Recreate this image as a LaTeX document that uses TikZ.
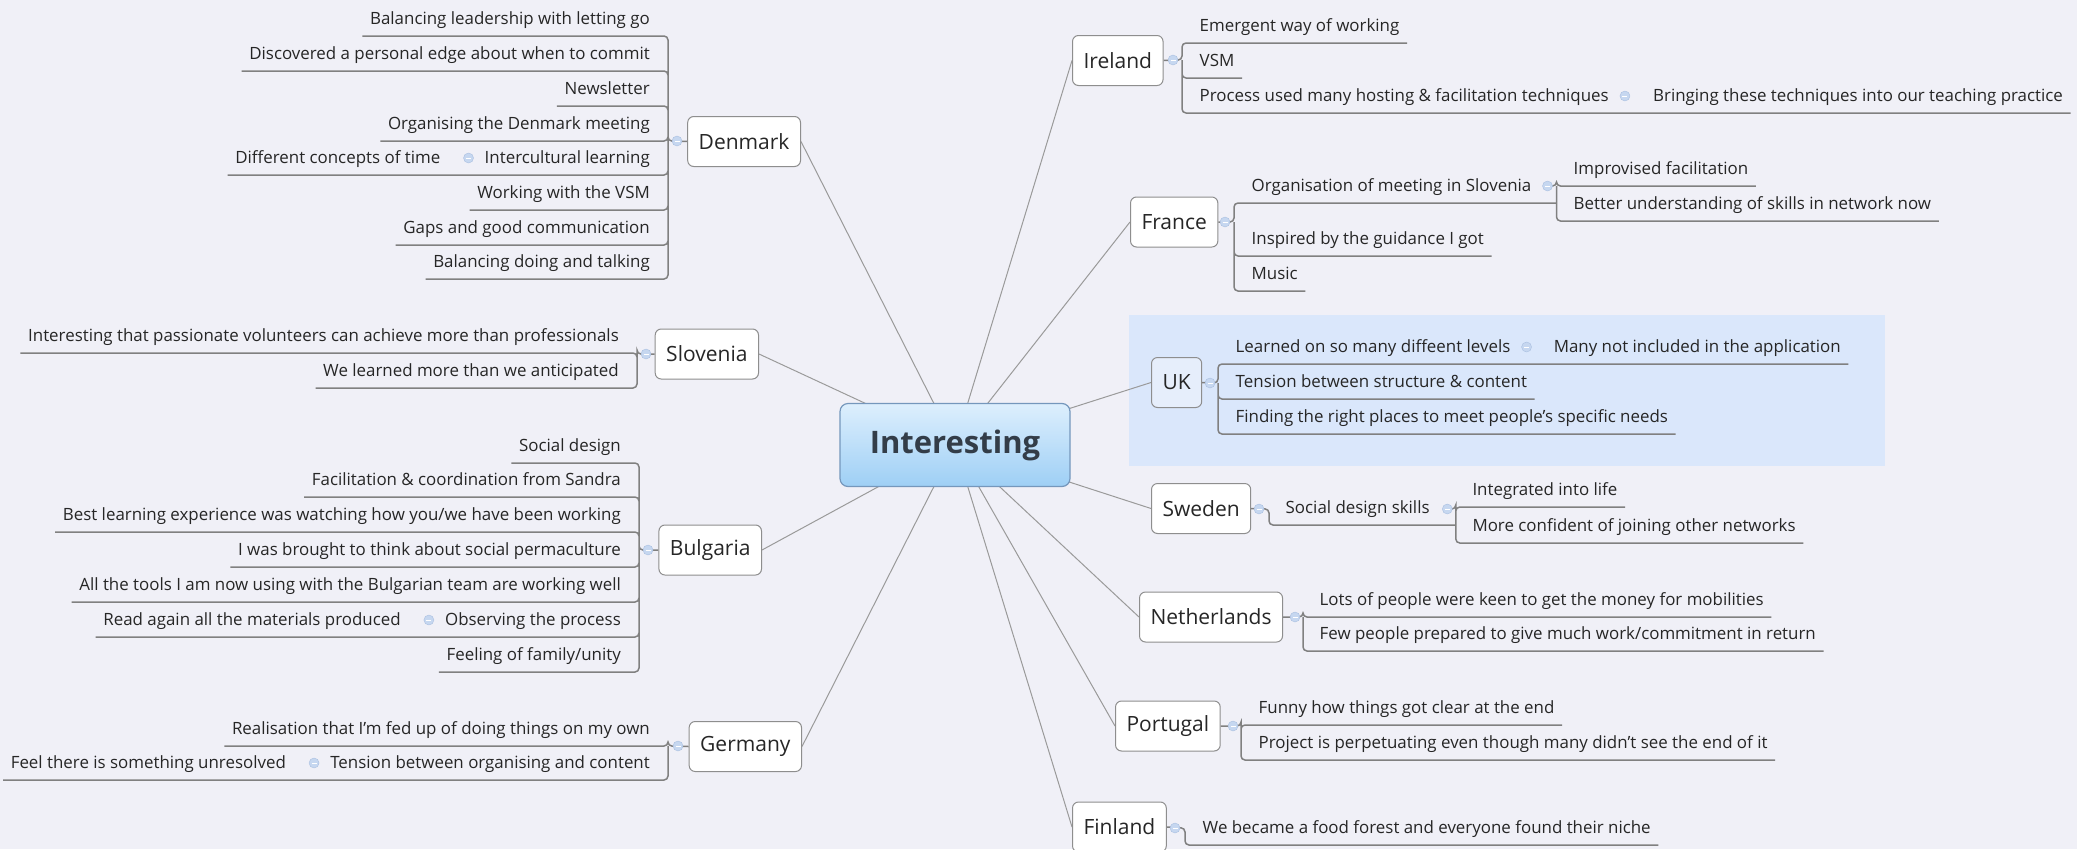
\documentclass[tikz,border=0pt]{standalone}
\usepackage{fontspec}
\setmainfont{Open Sans}
\usetikzlibrary{positioning,calc,backgrounds}

\definecolor{bgcol}{HTML}{F0F0F7}
\definecolor{hilite}{HTML}{DAE7FB}
\definecolor{ukfill}{HTML}{E6EEFB}
\definecolor{boxline}{HTML}{8E8E8E}
\definecolor{spokecol}{HTML}{9A9A9A}
\definecolor{linecol}{HTML}{808080}
\definecolor{hubtop}{HTML}{DDEFFD}
\definecolor{hubbot}{HTML}{9ECFF5}
\definecolor{hubline}{HTML}{7597BC}
\definecolor{hubtext}{HTML}{333D48}
\definecolor{textcol}{HTML}{262626}
\definecolor{mkfill}{HTML}{C6D7F0}
\definecolor{mkline}{HTML}{A9BFE0}

\begin{document}
\begin{tikzpicture}[x=1pt, y=-1pt,
    hub/.style={draw=hubline, line width=1.2pt, rounded corners=8pt,
      top color=hubtop, bottom color=hubbot, minimum width=230pt,
      minimum height=83pt, text=hubtext,
      font=\fontsize{31}{37}\selectfont\bfseries},
    country/.style={draw=boxline, line width=1pt, fill=white,
      rounded corners=6pt, minimum height=50pt, inner xsep=11pt,
      text=textcol, font=\fontsize{21}{25}\selectfont},
    leaf/.style={inner xsep=7.5pt, inner ysep=0pt, text height=12pt,
      text depth=11pt, text=textcol, font=\fontsize{16.9}{20}\selectfont},
    leafL/.style={leaf, anchor=south east},
    leafR/.style={leaf, anchor=south west},
    mk/.style={circle, draw=mkline, fill=mkfill, minimum size=10pt,
      inner sep=0pt, path picture={\draw[white, line width=1pt]
        ([xshift=-2.5pt]path picture bounding box.center) --
        ([xshift=2.5pt]path picture bounding box.center);}},
    spoke/.style={draw=spokecol, line width=1pt},
    branch/.style={draw=linecol, line width=1.5pt, rounded corners=4pt}]

    \useasboundingbox (0,0) rectangle (2077,849);

    \node[hub] (hub) at (955,445) {Interesting};

    % countries
    \node[country, anchor=east] (den) at (801,141.5) {Denmark};
    \node[country, anchor=east] (slo) at (759,354) {Slovenia};
    \node[country, anchor=east] (bul) at (762,550) {Bulgaria};
    \node[country, anchor=east] (ger) at (802,746.5) {Germany};
    \node[country, anchor=west] (ire) at (1072,60.5) {Ireland};
    \node[country, anchor=west] (fra) at (1130,222) {France};
    \node[country, anchor=west, fill=ukfill] (uk) at (1151,382.5) {UK};
    \node[country, anchor=west] (swe) at (1151,508.5) {Sweden};
    \node[country, anchor=west] (net) at (1139,617) {Netherlands};
    \node[country, anchor=west] (por) at (1115,726) {Portugal};
    \node[country, anchor=west] (fin) at (1072,827) {Finland};

    % Denmark
    \coordinate (denj) at (668,141);
    \node[mk] (denmk) at (677,141) {};
    \node[leafL] (den1) at (657.5,36) {Balancing leadership with letting go};
    \node[leafL] (den2) at (657.5,71) {Discovered a personal edge about when to commit};
    \node[leafL] (den3) at (657.5,106) {Newsletter};
    \node[leafL] (den4) at (657.5,141) {Organising the Denmark meeting};
    \node[leafL] (den5) at (657.5,175) {Intercultural learning};
    \node[leaf, left=29pt of den5.south west, anchor=south east] (den5a) {Different concepts of time};
    \node[mk] (den5mk) at ([shift={(-8.5,-17)}]den5.south west) {};
    \node[leafL] (den6) at (657.5,210) {Working with the VSM};
    \node[leafL] (den7) at (657.5,245) {Gaps and good communication};
    \node[leafL] (den8) at (657.5,279) {Balancing doing and talking};

    % Slovenia
    \coordinate (sloj) at (637,354);
    \node[mk] (slomk) at (646,354) {};
    \node[leafL] (slo1) at (626.5,353) {Interesting that passionate volunteers can achieve more than professionals};
    \node[leafL] (slo2) at (626.5,388) {We learned more than we anticipated};

    % Bulgaria
    \coordinate (bulj) at (639,550);
    \node[mk] (bulmk) at (648,550) {};
    \node[leafL] (bul1) at (628.5,463) {Social design};
    \node[leafL] (bul2) at (628.5,497) {Facilitation \& coordination from Sandra};
    \node[leafL] (bul3) at (628.5,532) {Best learning experience was watching how you/we have been working};
    \node[leafL] (bul4) at (628.5,567) {I was brought to think about social permaculture};
    \node[leafL] (bul5) at (628.5,602) {All the tools I am now using with the Bulgarian team are working well};
    \node[leafL] (bul6) at (628.5,637) {Observing the process};
    \node[leaf, left=29pt of bul6.south west, anchor=south east] (bul6a) {Read again all the materials produced};
    \node[mk] (bul6mk) at ([shift={(-8.5,-17)}]bul6.south west) {};
    \node[leafL] (bul7) at (628.5,672) {Feeling of family/unity};

    % Germany
    \coordinate (gerj) at (668,746);
    \node[mk] (germk) at (678,746) {};
    \node[leafL] (ger1) at (657.5,746) {Realisation that I'm fed up of doing things on my own};
    \node[leafL] (ger2) at (657.5,780) {Tension between organising and content};
    \node[leaf, left=29pt of ger2.south west, anchor=south east] (ger2a) {Feel there is something unresolved};
    \node[mk] (ger2mk) at ([shift={(-8.5,-17)}]ger2.south west) {};

    % Ireland
    \coordinate (irej) at (1182,60);
    \node[mk] (iremk) at (1173,60) {};
    \node[leafR] (ire1) at (1192,43) {Emergent way of working};
    \node[leafR] (ire2) at (1192,78) {VSM};
    \node[leafR] (ire3) at (1192,113) {Process used many hosting \& facilitation techniques};
    \node[leaf, right=29pt of ire3.south east, anchor=south west] (ire3a) {Bringing these techniques into our teaching practice};
    \node[mk] (ire3mk) at ([shift={(8.5,-17)}]ire3.south east) {};

    % France
    \coordinate (fraj) at (1234,222);
    \node[mk] (framk) at (1225,222) {};
    \node[leafR] (fra1) at (1244,203) {Organisation of meeting in Slovenia};
    \coordinate (fra1j) at ([shift={(17.5,-17)}]fra1.south east);
    \node[mk] (fra1mk) at ([shift={(8.5,-17)}]fra1.south east) {};
    \node[leafR] (fra1a) at ([xshift=9.5pt]fra1j) {Improvised facilitation};
    \node[leafR] (fra1b) at ([shift={(9.5,35)}]fra1j) {Better understanding of skills in network now};
    \node[leafR] (fra2) at (1244,256) {Inspired by the guidance I got};
    \node[leafR] (fra3) at (1244,291) {Music};

    % UK
    \coordinate (ukj) at (1218,383);
    \node[mk] (ukmk) at (1210,383) {};
    \node[leafR] (uk1) at (1228,364) {Learned on so many diffeent levels};
    \node[leaf, right=28pt of uk1.south east, anchor=south west] (uk1a) {Many not included in the application};
    \node[mk] (uk1mk) at ([shift={(8.5,-17)}]uk1.south east) {};
    \node[leafR] (uk2) at (1228,399) {Tension between structure \& content};
    \node[leafR] (uk3) at (1228,434) {Finding the right places to meet people's specific needs};

    % Sweden
    \coordinate (swej) at (1269,509);
    \node[mk] (swemk) at (1259,509) {};
    \node[leafR] (swe1) at (1278,525) {Social design skills};
    \coordinate (swe1j) at ([shift={(18.5,-16)}]swe1.south east);
    \node[mk] (swe1mk) at ([shift={(10,-16)}]swe1.south east) {};
    \node[leafR] (swe1a) at ([shift={(9,-2)}]swe1j) {Integrated into life};
    \node[leafR] (swe1b) at ([shift={(9,34)}]swe1j) {More confident of joining other networks};

    % Netherlands
    \coordinate (netj) at (1303,617);
    \node[mk] (netmk) at (1295,617) {};
    \node[leafR] (net1) at (1312,617) {Lots of people were keen to get the money for mobilities};
    \node[leafR] (net2) at (1312,651) {Few people prepared to give much work/commitment in return};

    % Portugal
    \coordinate (porj) at (1241,726);
    \node[mk] (pormk) at (1233,726) {};
    \node[leafR] (por1) at (1251,725) {Funny how things got clear at the end};
    \node[leafR] (por2) at (1251,760) {Project is perpetuating even though many didn't see the end of it};

    % Finland
    \coordinate (finj) at (1185,828);
    \node[mk] (finmk) at (1175,828) {};
    \node[leafR] (fin1) at (1195,845) {We became a food forest and everyone found their niche};

    \begin{scope}[on background layer]
        \fill[bgcol] (0,0) rectangle (2077,849);
        \fill[hilite] (1129,315) rectangle (1885,466);

        \draw[spoke] (hub.center) -- (den.east);
        \draw[spoke] (hub.center) -- (slo.east);
        \draw[spoke] (hub.center) -- (bul.east);
        \draw[spoke] (hub.center) -- (ger.east);
        \draw[spoke] (hub.center) -- (ire.west);
        \draw[spoke] (hub.center) -- (fra.west);
        \draw[spoke] (hub.center) -- (uk.west);
        \draw[spoke] (hub.center) -- (swe.west);
        \draw[spoke] (hub.center) -- (net.west);
        \draw[spoke] (hub.center) -- (por.west);
        \draw[spoke] (hub.center) -- (fin.west);

        \draw[branch] (den.west) -- (denj) |- (den1.south east) -- (den1.south west)
            (denj) |- (den2.south east) -- (den2.south west)
            (denj) |- (den3.south east) -- (den3.south west)
            (denj) |- (den4.south east) -- (den4.south west)
            (denj) |- (den5.south east) -- (den5a.south west)
            (denj) |- (den6.south east) -- (den6.south west)
            (denj) |- (den7.south east) -- (den7.south west)
            (denj) |- (den8.south east) -- (den8.south west);
        \draw[branch] (slo.west) -- (sloj) |- (slo1.south east) -- (slo1.south west)
            (sloj) |- (slo2.south east) -- (slo2.south west);
        \draw[branch] (bul.west) -- (bulj) |- (bul1.south east) -- (bul1.south west)
            (bulj) |- (bul2.south east) -- (bul2.south west)
            (bulj) |- (bul3.south east) -- (bul3.south west)
            (bulj) |- (bul4.south east) -- (bul4.south west)
            (bulj) |- (bul5.south east) -- (bul5.south west)
            (bulj) |- (bul6.south east) -- (bul6a.south west)
            (bulj) |- (bul7.south east) -- (bul7.south west);
        \draw[branch] (ger.west) -- (gerj) |- (ger1.south east) -- (ger1.south west)
            (gerj) |- (ger2.south east) -- (ger2a.south west);

        \draw[branch] (ire.east) -- (irej) |- (ire1.south west) -- (ire1.south east)
            (irej) |- (ire2.south west) -- (ire2.south east)
            (irej) |- (ire3.south west) -- (ire3a.south east);
        \draw[branch] (fra.east) -- (fraj) |- (fra1.south west) -- (fra1.south east) -- (fra1.south east -| fra1j)
            (fraj) |- (fra2.south west) -- (fra2.south east)
            (fraj) |- (fra3.south west) -- (fra3.south east);
        \draw[branch] (fra1mk) -- (fra1j) |- (fra1a.south west) -- (fra1a.south east)
            (fra1j) |- (fra1b.south west) -- (fra1b.south east);
        \draw[branch] (uk.east) -- (ukj) |- (uk1.south west) -- (uk1a.south east)
            (ukj) |- (uk2.south west) -- (uk2.south east)
            (ukj) |- (uk3.south west) -- (uk3.south east);
        \draw[branch] (swe.east) -- (swej) |- (swe1.south west) -- (swe1.south east) -- (swe1.south east -| swe1j);
        \draw[branch] (swe1mk) -- (swe1j) |- (swe1a.south west) -- (swe1a.south east)
            (swe1j) |- (swe1b.south west) -- (swe1b.south east);
        \draw[branch] (net.east) -- (netj) |- (net1.south west) -- (net1.south east)
            (netj) |- (net2.south west) -- (net2.south east);
        \draw[branch] (por.east) -- (porj) |- (por1.south west) -- (por1.south east)
            (porj) |- (por2.south west) -- (por2.south east);
        \draw[branch] (fin.east) -- (finj) |- (fin1.south west) -- (fin1.south east);
    \end{scope}
\end{tikzpicture}
\end{document}
